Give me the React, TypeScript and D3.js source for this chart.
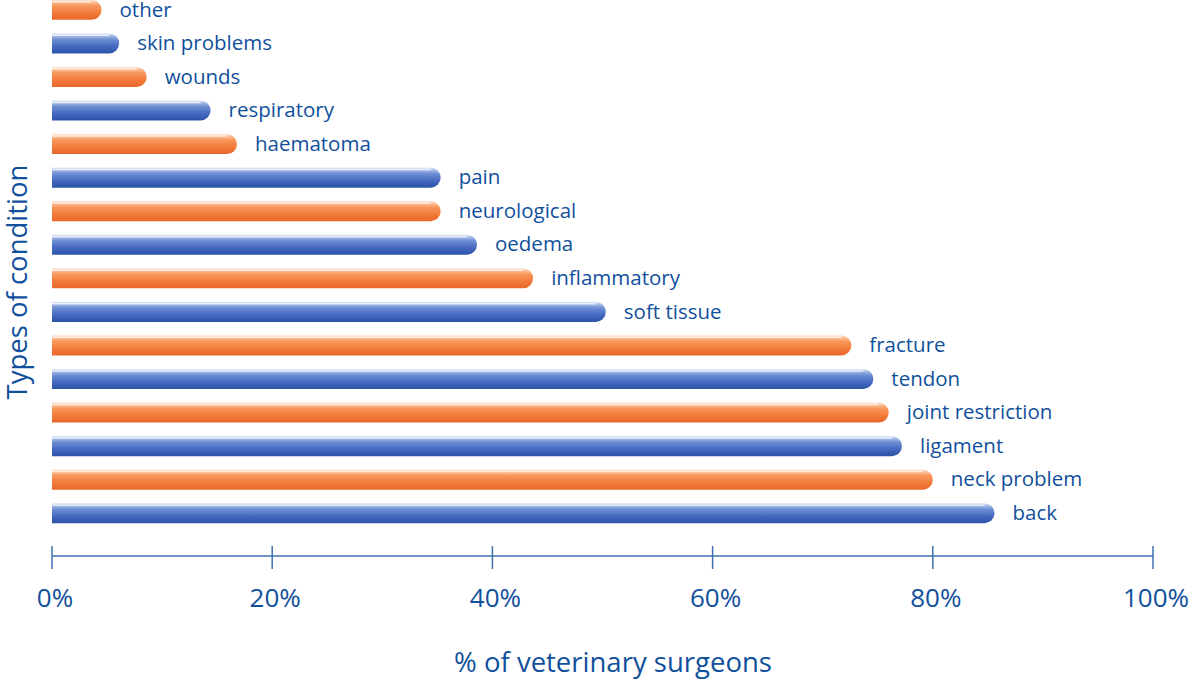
import React from "react";
import * as d3 from "d3";

const categories = [
  "other", "skin problems", "wounds", "respiratory", "haematoma", "pain",
  "neurological", "oedema", "inflammatory", "soft tissue", "fracture",
  "tendon", "joint restriction", "ligament", "neck problem", "back",
];
const values = [4.5, 6.1, 8.6, 14.4, 16.8, 35.3, 35.3, 38.6, 43.7, 50.3, 72.6, 74.6, 76.0, 77.2, 80.0, 85.6];
const barColors = ["orange", "blue", "orange", "blue", "orange", "blue", "orange", "blue", "orange", "blue", "orange", "blue", "orange", "blue", "orange", "blue"];
const tickValues = [0, 20, 40, 60, 80, 100];

const TEXT = "#11509c";
const FONT = "'Open Sans', 'Noto Sans', sans-serif";

export default function App() {
  const W = 1200, H = 680;
  const x = d3.scaleLinear().domain([0, 100]).range([52, 1153]);
  const y = d3.scaleBand<string>().domain(categories).range([-7, 530]).paddingInner(0.4).paddingOuter(0.2);
  const bh = y.bandwidth();
  const axisY = 556;

  const barPath = (v: number, y0: number) => {
    const x0 = x(0);
    const x1 = x(v);
    const r = bh / 2;
    return `M${x0},${y0} L${x1 - r},${y0} A${r},${r} 0 0 1 ${x1 - r},${y0 + bh} L${x0},${y0 + bh} Z`;
  };

  return (
    <svg width={W} height={H} style={{ position: "absolute", left: 0, top: 0, background: "#fff" }}>
      <defs>
        <linearGradient id="gblue" x1="0" y1="0" x2="0" y2="1">
          <stop offset="0" stopColor="#e4eaf8" />
          <stop offset="0.12" stopColor="#a9bde8" />
          <stop offset="0.3" stopColor="#6f8fd4" />
          <stop offset="0.65" stopColor="#4569c0" />
          <stop offset="1" stopColor="#2a53a8" />
        </linearGradient>
        <linearGradient id="gorange" x1="0" y1="0" x2="0" y2="1">
          <stop offset="0" stopColor="#fde6d6" />
          <stop offset="0.12" stopColor="#fcbf98" />
          <stop offset="0.3" stopColor="#f8975c" />
          <stop offset="0.65" stopColor="#f27b3a" />
          <stop offset="1" stopColor="#e9672a" />
        </linearGradient>
      </defs>
      {categories.map((c, i) => {
        const y0 = y(c)!;
        return (
          <g key={c}>
            <path d={barPath(values[i], y0)} fill={barColors[i] === "blue" ? "url(#gblue)" : "url(#gorange)"} />
            <path
              d={`M${x(0)},${y0 + 2} L${x(values[i]) - bh / 2},${y0 + 2}`}
              stroke="#ffffff" strokeOpacity={0.7} strokeWidth={1.5}
            />
            <text x={x(values[i]) + 18} y={y0 + bh / 2} dy="0.33em" fill={TEXT} fontFamily={FONT} fontSize={20.5}>
              {c}
            </text>
          </g>
        );
      })}
      <line x1={x(0)} x2={x(100)} y1={axisY} y2={axisY} stroke="#3f6fae" strokeWidth={1.5} />
      {tickValues.map((t) => (
        <g key={t}>
          <line x1={x(t)} x2={x(t)} y1={axisY - 10} y2={axisY + 13} stroke="#3f6fae" strokeWidth={1.5} />
          <text x={x(t) + 3} y={598} textAnchor="middle" dy="0.35em" fill={TEXT} fontFamily={FONT} fontSize={26}>
            {t}%
          </text>
        </g>
      ))}
      <text x={613} y={662} textAnchor="middle" dy="0.35em" fill={TEXT} fontFamily={FONT} fontSize={27.5}>
        % of veterinary surgeons
      </text>
      <text transform={`translate(17,282) rotate(-90)`} textAnchor="middle" dy="0.35em" fill={TEXT} fontFamily={FONT} fontSize={27.5}>
        Types of condition
      </text>
    </svg>
  );
}
